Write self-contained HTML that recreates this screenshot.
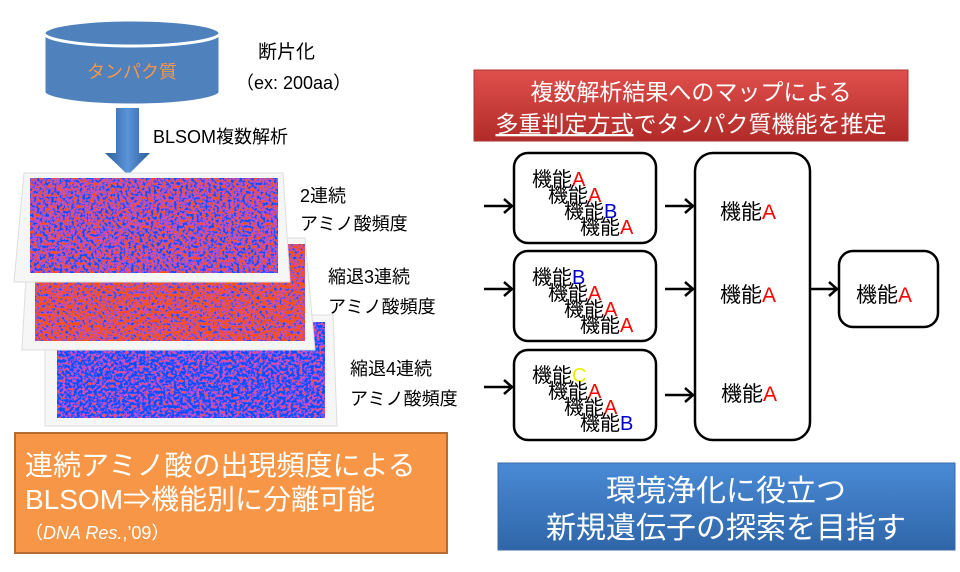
<!DOCTYPE html>
<html><head><meta charset="utf-8"><style>
html,body{margin:0;padding:0;background:#fff;width:960px;height:572px;overflow:hidden}
text{font-family:"Liberation Sans","Noto Sans CJK JP",sans-serif}
</style></head><body>
<svg width="960" height="572" viewBox="0 0 960 572" xmlns="http://www.w3.org/2000/svg">
<defs>
<filter id="nz" x="0" y="0" width="100%" height="100%">
<feTurbulence type="fractalNoise" baseFrequency="0.35" numOctaves="3" seed="3" result="t"/>
<feColorMatrix in="t" type="matrix" values="3.5 0 0 0 -1.3  0 0 0 0 0.08  -3.5 0 0 0 2.3  0 0 0 0 1"/>
</filter>
<filter id="nz2" x="0" y="0" width="100%" height="100%">
<feTurbulence type="fractalNoise" baseFrequency="0.35" numOctaves="3" seed="7" result="t"/>
<feColorMatrix in="t" type="matrix" values="3.5 0 0 0 -1.05  0 0 0 0 0.08  -3.5 0 0 0 2.0  0 0 0 0 1"/>
</filter>
<filter id="nz3" x="0" y="0" width="100%" height="100%">
<feTurbulence type="fractalNoise" baseFrequency="0.35" numOctaves="3" seed="11" result="t"/>
<feColorMatrix in="t" type="matrix" values="3.5 0 0 0 -1.6  0 0 0 0 0.08  -3.5 0 0 0 2.7  0 0 0 0 1"/>
</filter>
<linearGradient id="red" x1="0" y1="0" x2="0" y2="1"><stop offset="0" stop-color="#e0504c"/><stop offset="1" stop-color="#b12b28"/></linearGradient>
<linearGradient id="blu" x1="0" y1="0" x2="0" y2="1"><stop offset="0" stop-color="#4a8ad6"/><stop offset="1" stop-color="#2f66a8"/></linearGradient>
<linearGradient id="arr" x1="0" y1="0" x2="1" y2="0"><stop offset="0" stop-color="#2d5f9c"/><stop offset="0.5" stop-color="#5b94d8"/><stop offset="1" stop-color="#2d5f9c"/></linearGradient>
</defs>

<path d="M44 33 L44 92 A88 13 0 0 0 220 92 L220 33 Z" fill="#4f81bd" stroke="#fff" stroke-width="3"/>
<ellipse cx="132" cy="33" rx="88" ry="13" fill="#4f81bd" stroke="#fff" stroke-width="3"/>
<text x="132" y="78" font-size="18" fill="#f79646" text-anchor="middle">タンパク質</text>
<text x="258" y="58" font-size="19">断片化</text>
<text x="236" y="89" font-size="18">（ex: 200aa）</text>

<path d="M116 108 L139 108 L139 153 L150 153 L128 175 L105 153 L116 153 Z" fill="url(#arr)"/>
<text x="153" y="143" font-size="18">BLSOM複数解析</text>

<polygon points="45,315 333,315 337,426 45,426" fill="#f6f6f6" stroke="#ddd"/>
<rect x="57" y="322" width="268" height="96" filter="url(#nz3)"/>
<polygon points="28,238 305,238 315,350 22,350" fill="#f6f6f6" stroke="#ddd"/>
<rect x="35" y="244" width="270" height="97" filter="url(#nz2)"/>
<polygon points="24,173 283,173 290,282 14,282" fill="#f6f6f6" stroke="#ddd"/>
<rect x="30" y="178" width="248" height="95" filter="url(#nz)"/>

<g font-size="18">
<text x="300" y="202">2連続</text><text x="300" y="230">アミノ酸頻度</text>
<text x="328" y="283">縮退3連続</text><text x="328" y="313">アミノ酸頻度</text>
<text x="350" y="375">縮退4連続</text><text x="350" y="405">アミノ酸頻度</text>
</g>

<rect x="15" y="433" width="432" height="120" fill="#f79646" stroke="#b66d31" stroke-width="2"/>
<g fill="#fff">
<text x="25" y="475" font-size="28">連続アミノ酸の出現頻度による</text>
<text x="25" y="509" font-size="28">BLSOM⇒機能別に分離可能</text>
<text x="25" y="539" font-size="18">（<tspan font-style="italic">DNA Res.</tspan>,’09）</text>
</g>

<rect x="474" y="70" width="434" height="71" fill="url(#red)" stroke="#a33" stroke-width="1"/>
<g fill="#fff" font-size="23" text-anchor="middle">
<text x="691" y="100">複数解析結果へのマップによる</text>
<text x="691" y="132"><tspan text-decoration="underline">多重判定方式</tspan>でタンパク質機能を推定</text>
</g>

<g fill="#fff" stroke="#000" stroke-width="2.5">
<rect x="514" y="153" width="142" height="90" rx="14"/>
<rect x="514" y="251" width="142" height="90" rx="14"/>
<rect x="514" y="350" width="142" height="90" rx="14"/>
<rect x="695" y="153" width="115" height="287" rx="18"/>
<rect x="839" y="251" width="99" height="76" rx="14"/>
</g>
<g stroke="#000" stroke-width="2.5" fill="none">
<path d="M484 206 H512 M504 199 L512 206 L504 213"/>
<path d="M484 289 H512 M504 282 L512 289 L504 296"/>
<path d="M484 387 H512 M504 380 L512 387 L504 394"/>
<path d="M665 206 H693 M685 199 L693 206 L685 213"/>
<path d="M665 289 H693 M685 282 L693 289 L685 296"/>
<path d="M665 395 H693 M685 388 L693 395 L685 402"/>
<path d="M811 289 H837 M829 282 L837 289 L829 296"/>
</g>
<g font-size="20">
<text x="532" y="186">機能<tspan fill="red">A</tspan></text>
<text x="548" y="202">機能<tspan fill="red">A</tspan></text>
<text x="564" y="218">機能<tspan fill="#00c">B</tspan></text>
<text x="580" y="234">機能<tspan fill="red">A</tspan></text>
<text x="532" y="284">機能<tspan fill="#00c">B</tspan></text>
<text x="548" y="300">機能<tspan fill="red">A</tspan></text>
<text x="564" y="316">機能<tspan fill="red">A</tspan></text>
<text x="580" y="332">機能<tspan fill="red">A</tspan></text>
<text x="532" y="382">機能<tspan fill="#ee0">C</tspan></text>
<text x="548" y="398">機能<tspan fill="red">A</tspan></text>
<text x="564" y="414">機能<tspan fill="red">A</tspan></text>
<text x="580" y="430">機能<tspan fill="#00c">B</tspan></text>
</g>
<g font-size="21">
<text x="720" y="219">機能<tspan fill="red">A</tspan></text>
<text x="720" y="302">機能<tspan fill="red">A</tspan></text>
<text x="721" y="401">機能<tspan fill="red">A</tspan></text>
<text x="856" y="302">機能<tspan fill="red">A</tspan></text>
</g>

<rect x="498" y="463" width="457" height="87" fill="url(#blu)" stroke="#3a6aa8" stroke-width="1"/>
<g fill="#fff" font-size="30" text-anchor="middle">
<text x="726" y="501">環境浄化に役立つ</text>
<text x="726" y="538">新規遺伝子の探索を目指す</text>
</g>
</svg>
</body></html>
